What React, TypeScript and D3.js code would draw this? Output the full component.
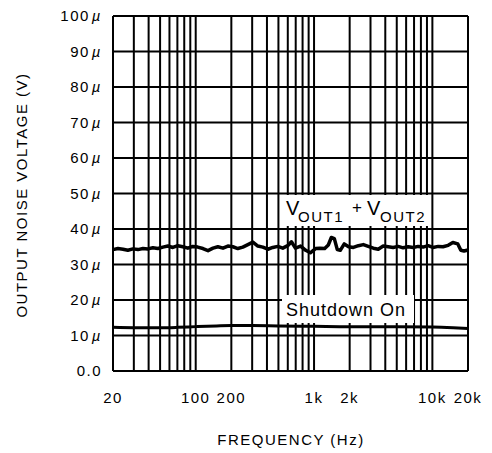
import React from 'react';
import * as d3 from 'd3';

// frequencies (Hz) and output noise (uV)
const freqOut = [20, 22, 24.3, 26.7, 29.5, 32.5, 35.8, 39.4, 43.5, 47.9, 52.8, 58.2, 64.1, 70.6, 77.8, 85.8, 94.5, 104, 115, 127, 140, 154, 170, 187, 206, 227, 250, 276, 304, 335, 369, 407, 448, 494, 544, 599, 644, 696, 770, 850, 930, 1030, 1120, 1230, 1320, 1400, 1484, 1572, 1666, 1800, 1960, 2150, 2370, 2610, 2870, 3170, 3490, 3840, 4230, 4660, 5140, 5660, 6240, 6880, 7580, 8350, 9200, 10100, 11200, 12300, 13600, 14900, 16400, 17400, 18500, 20000];
const noiseOut = [34.2, 34.5, 34.3, 34.0, 34.4, 34.2, 34.5, 34.4, 34.7, 34.5, 34.9, 35.2, 34.8, 35.3, 35.0, 34.6, 35.1, 34.9, 34.5, 33.9, 34.6, 35.0, 34.6, 35.2, 35.0, 34.5, 34.9, 35.6, 36.3, 35.2, 34.9, 34.3, 34.8, 35.1, 34.6, 35.3, 36.4, 34.6, 35.2, 34.0, 33.3, 34.5, 34.6, 34.5, 35.5, 37.6, 37.3, 34.2, 34.0, 35.8, 35.0, 34.8, 35.3, 35.6, 35.1, 34.6, 34.3, 35.2, 35.0, 34.8, 35.1, 34.7, 35.0, 34.8, 35.1, 34.9, 35.3, 34.8, 35.1, 35.0, 35.4, 36.2, 35.8, 34.0, 33.8, 34.1];

const freqShut = [20, 30, 50, 70, 100, 150, 200, 300, 500, 1000, 2000, 5000, 10000, 15000, 20000];
const noiseShut = [12.3, 12.2, 12.2, 12.3, 12.5, 12.7, 12.8, 12.8, 12.7, 12.6, 12.5, 12.5, 12.4, 12.2, 12.0];

const yTicks = [0, 10, 20, 30, 40, 50, 60, 70, 80, 90, 100];
const xGrid = [20, 30, 40, 50, 60, 70, 80, 90, 100, 200, 300, 400, 500, 600, 700, 800, 900, 1000, 2000, 3000, 4000, 5000, 6000, 7000, 8000, 9000, 10000, 20000];
const xLabels: [number, string][] = [[20, '20'], [100, '100'], [200, '200'], [1000, '1k'], [2000, '2k'], [10000, '10k'], [20000, '20k']];

const W = 492, H = 453;
const m = { top: 16, right: 24, bottom: 82, left: 113 };
const font = '"Liberation Sans", Arial, sans-serif';

export default function App() {
  const x = d3.scaleLog().domain([20, 20000]).range([m.left, W - m.right]);
  const y = d3.scaleLinear().domain([0, 100]).range([H - m.bottom, m.top]);

  const line = d3.line<number>()
    .x((d, i) => x(freqOut[i]))
    .y(d => y(d));
  const lineShut = d3.line<number>()
    .x((d, i) => x(freqShut[i]))
    .y(d => y(d))
    .curve(d3.curveMonotoneX);

  return (
    <svg width={W} height={H} style={{ position: 'absolute', left: 0, top: 0, background: '#fff' }}>
      <g stroke="#000" strokeWidth={2} fill="none">
        {yTicks.map(t => (
          <line key={'h' + t} x1={x(20)} x2={x(20000)} y1={y(t)} y2={y(t)} />
        ))}
        {xGrid.map(f => (
          <line key={'v' + f} x1={x(f)} x2={x(f)} y1={y(0)} y2={y(100)} />
        ))}
      </g>

      {/* label boxes cut the grid */}
      <rect x={281} y={195} width={149} height={31} fill="#fff" />
      <rect x={282} y={295} width={132} height={28} fill="#fff" />

      <path d={line(noiseOut) || ''} fill="none" stroke="#000" strokeWidth={3.5} strokeLinejoin="round" />
      <path d={lineShut(noiseShut) || ''} fill="none" stroke="#000" strokeWidth={3} />

      <g fontFamily={font} fill="#000">
        <text x={286} y={215} fontSize={20}>V</text>
        <text x={298} y={222} fontSize={15} letterSpacing={1.5}>OUT1</text>
        <text x={352} y={213} fontSize={17}>+</text>
        <text x={367} y={215} fontSize={20}>V</text>
        <text x={380} y={222} fontSize={15} letterSpacing={1.5}>OUT2</text>
        <text x={286} y={316} fontSize={18} letterSpacing={1}>Shutdown On</text>
      </g>

      <g fontFamily={font} fontSize={15} fill="#000" letterSpacing={1.5}>
        {yTicks.map(t => (
          <text key={'yl' + t} x={102} y={y(t)} dy="0.36em" textAnchor="end">
            {t === 0 ? '0.0' : <>{t}<tspan fontStyle="italic" dx={2}>µ</tspan></>}
          </text>
        ))}
        {xLabels.map(([f, s]) => (
          <text key={'xl' + f} x={x(f)} y={403} textAnchor="middle">{s}</text>
        ))}
        <text x={291} y={445} textAnchor="middle">FREQUENCY (Hz)</text>
        <text transform={`translate(27,${195}) rotate(-90)`} textAnchor="middle">OUTPUT NOISE VOLTAGE (V)</text>
      </g>
    </svg>
  );
}
